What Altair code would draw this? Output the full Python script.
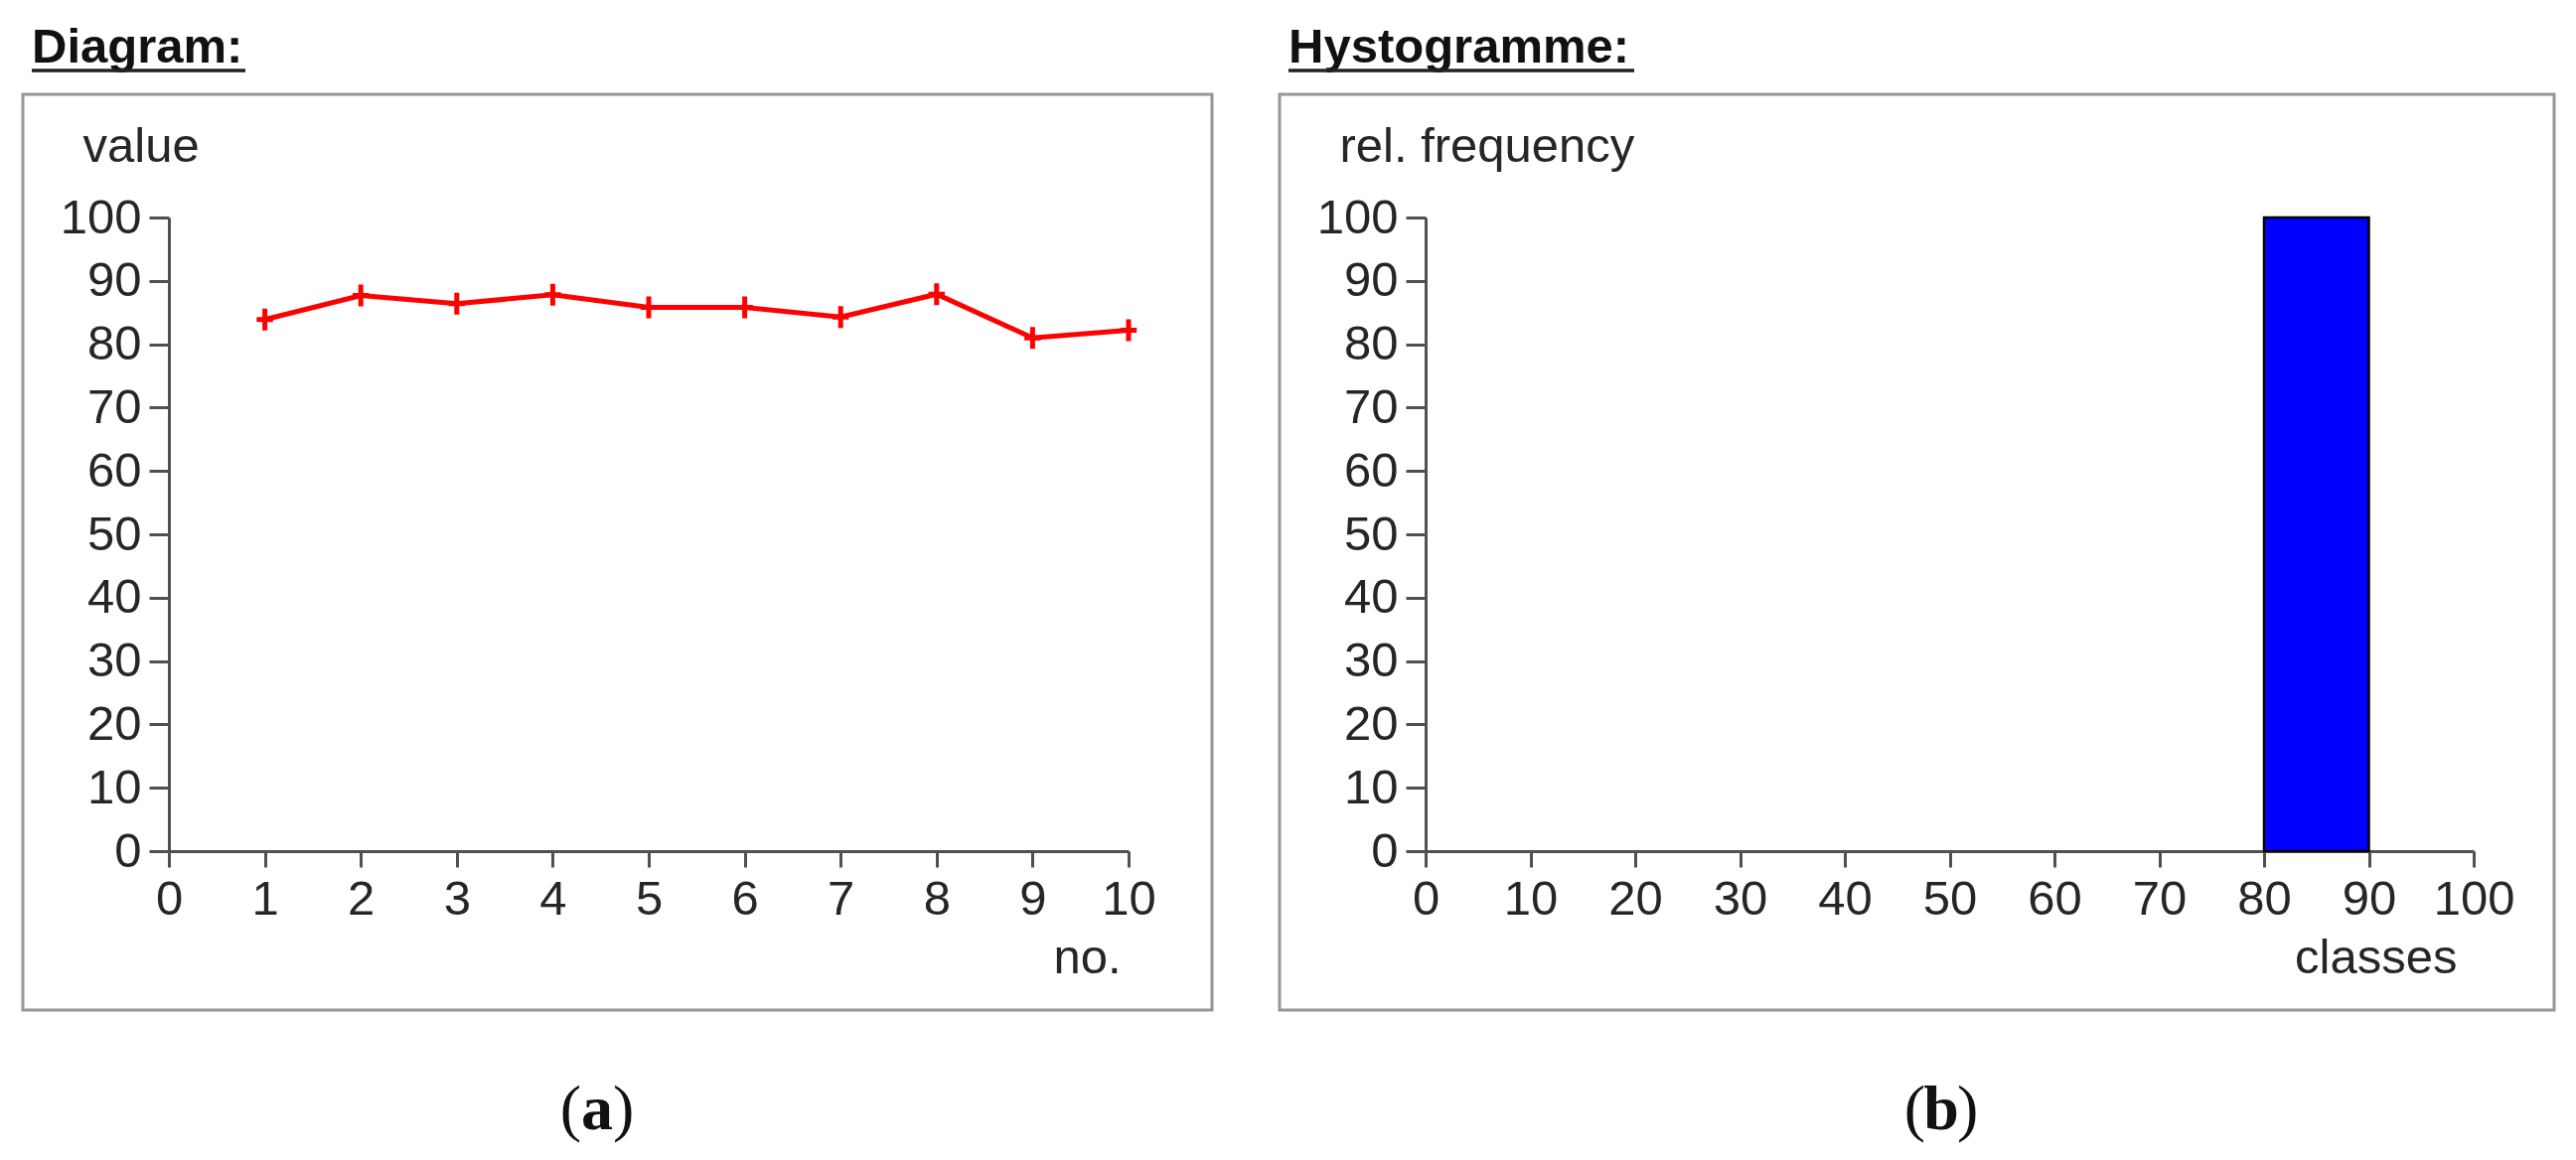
import altair as alt
import pandas as pd

# ---------------- data ----------------
obs_no = [1, 2, 3, 4, 5, 6, 7, 8, 9, 10]
obs_value = [83.9, 87.7, 86.4, 87.8, 85.8, 85.8, 84.3, 87.9, 81.0, 82.2]
no_ticks = [0, 1, 2, 3, 4, 5, 6, 7, 8, 9, 10]
value_ticks = [0, 10, 20, 30, 40, 50, 60, 70, 80, 90, 100]

class_start = [0, 10, 20, 30, 40, 50, 60, 70, 80, 90]
class_end = [10, 20, 30, 40, 50, 60, 70, 80, 90, 100]
rel_freq = [0, 0, 0, 0, 0, 0, 0, 0, 100, 0]
class_ticks = [0, 10, 20, 30, 40, 50, 60, 70, 80, 90, 100]
freq_ticks = [0, 10, 20, 30, 40, 50, 60, 70, 80, 90, 100]

left_title = "Diagram:"
right_title = "Hystogramme:"
left_ytitle = "value"
left_xtitle = "no."
right_ytitle = "rel. frequency"
right_xtitle = "classes"
left_caption = "a"
right_caption = "b"

# ---------------- styling ----------------
SANS = "Liberation Sans"
SERIF = "Liberation Serif"
TXT = "#262626"
AX = "#505050"
FS = 49
W_L, W_R, H = 966, 1055, 638

one = pd.DataFrame({"k": [0]})
line_df = pd.DataFrame({"no": obs_no, "value": obs_value})
hist_df = pd.DataFrame({"start": class_start, "end": class_end, "freq": rel_freq})


def yaxis(title, values):
    return alt.Axis(
        title=title, values=values, format="d", grid=False, tickSize=20, labelPadding=8,
        titleAngle=0, titleAlign="left", titleBaseline="alphabetic",
        titleX=-87, titleY=-57,
    )


def xaxis(title, values, tx):
    return alt.Axis(
        title=title, values=values, format="d", grid=False, tickSize=16, labelPadding=8,
        labelFlush=False, labelOverlap=False,
        titleAlign="right", titleBaseline="alphabetic", titleX=tx, titleY=122,
    )


def decorations(width, frame_right, title, ul_right, cap_x, cap, canvas):
    layers = []
    if canvas:
        layers.append(
            alt.Chart(one).mark_rect(opacity=0).encode(
                x=alt.value(-162), x2=alt.value(width + 100),
                y=alt.value(-211), y2=alt.value(H + 300),
            )
        )
    layers.append(
        alt.Chart(one).mark_rect(fill="white", fillOpacity=0, stroke="#969696", strokeWidth=3).encode(
            x=alt.value(-147), x2=alt.value(frame_right),
            y=alt.value(-124), y2=alt.value(H + 160),
        )
    )
    layers.append(
        alt.Chart(one).mark_text(
            text=title, font=SANS, fontSize=FS, fontWeight="bold", color="#111",
            align="left", baseline="alphabetic",
        ).encode(x=alt.value(-138), y=alt.value(-156))
    )
    layers.append(
        alt.Chart(one).mark_rule(color="#222", strokeWidth=3.5).encode(
            x=alt.value(-138), x2=alt.value(ul_right), y=alt.value(-148)
        )
    )
    layers.append(
        alt.Chart(one).mark_text(
            text="(", font=SERIF, fontSize=64, color="#111", align="right", baseline="alphabetic"
        ).encode(x=alt.value(cap_x - 16), y=alt.value(918))
    )
    layers.append(
        alt.Chart(one).mark_text(
            text=cap, font=SERIF, fontSize=64, fontWeight="bold", color="#111",
            align="center", baseline="alphabetic",
        ).encode(x=alt.value(cap_x), y=alt.value(918))
    )
    layers.append(
        alt.Chart(one).mark_text(
            text=")", font=SERIF, fontSize=64, color="#111", align="left", baseline="alphabetic"
        ).encode(x=alt.value(cap_x + 16), y=alt.value(918))
    )
    return layers


# ---------------- left panel ----------------
xs_l = alt.Scale(domain=[0, 10], nice=False, zero=False)
ys = alt.Scale(domain=[0, 100], nice=False)

line = alt.Chart(line_df).mark_line(color="#ff0000", strokeWidth=5).encode(
    x=alt.X("no:Q", scale=xs_l, axis=xaxis(left_xtitle, no_ticks, 958)),
    y=alt.Y("value:Q", scale=ys, axis=yaxis(left_ytitle, value_ticks)),
)
pts = alt.Chart(line_df).mark_point(
    shape="M0,-1L0,1M-0.75,0L0.75,0", size=484, filled=False,
    stroke="#ff0000", strokeWidth=5, opacity=1,
).encode(x=alt.X("no:Q", scale=xs_l), y=alt.Y("value:Q", scale=ys))

left = alt.layer(
    *decorations(W_L, W_L + 84, left_title, 77, 431, left_caption, True),
    line, pts,
).properties(width=W_L, height=H)

# ---------------- right panel ----------------
xs_r = alt.Scale(domain=[0, 100], nice=False, zero=False)

bars = alt.Chart(hist_df).transform_filter(alt.datum.freq > 0).mark_rect(
    color="#0000ff", stroke="#000000", strokeWidth=2.5
).encode(
    x=alt.X("start:Q", scale=xs_r, axis=xaxis(right_xtitle, class_ticks, 1038)),
    x2="end:Q",
    y=alt.Y("freq:Q", scale=ys, axis=yaxis(right_ytitle, freq_ticks)),
    y2=alt.datum(0),
)

right = alt.layer(
    *decorations(W_R, W_R + 81, right_title, 210, 519, right_caption, False),
    bars,
).properties(width=W_R, height=H)

chart = alt.hconcat(left, right, spacing=299, bounds="flush").properties(
    padding=0, background="white"
).configure_view(strokeWidth=0).configure_axis(
    domainColor=AX, domainWidth=3, tickColor=AX, tickWidth=3,
    labelFont=SANS, labelFontSize=FS, labelColor=TXT,
    titleFont=SANS, titleFontSize=FS, titleFontWeight="normal", titleColor=TXT,
)

chart.save("out.html", embed_options={"renderer": "svg", "actions": False})
